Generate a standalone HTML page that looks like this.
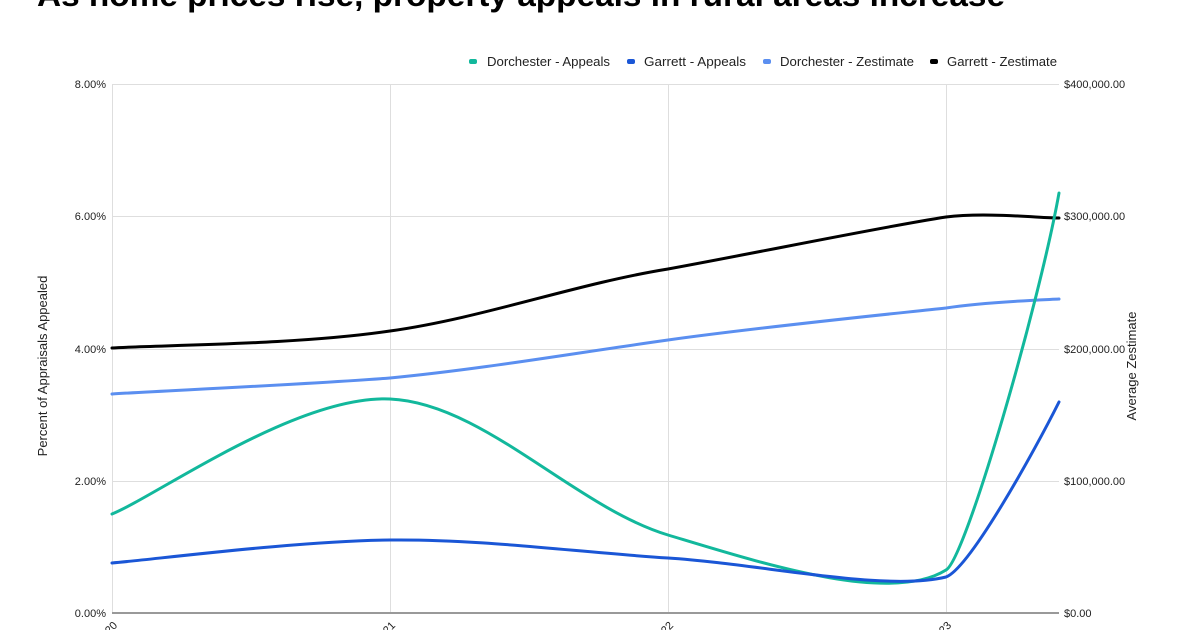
<!DOCTYPE html>
<html><head><meta charset="utf-8"><style>
html,body{margin:0;padding:0;background:#fff;}
svg{display:block;font-family:"Liberation Sans",Arial,sans-serif;}
</style></head><body>
<svg width="1200" height="630" viewBox="0 0 1200 630" xmlns="http://www.w3.org/2000/svg">
<text x="37" y="6" font-size="32" font-weight="bold" fill="#000" textLength="968" lengthAdjust="spacingAndGlyphs">As home prices rise, property appeals in rural areas increase</text>
<g font-size="12.5" fill="#222">
<rect x="469" y="59" width="8" height="5" rx="2" fill="#12b89c"/><text x="487" y="66" textLength="123" lengthAdjust="spacingAndGlyphs">Dorchester - Appeals</text>
<rect x="627" y="59" width="8" height="5" rx="2" fill="#1a56d6"/><text x="644" y="66" textLength="102" lengthAdjust="spacingAndGlyphs">Garrett - Appeals</text>
<rect x="763" y="59" width="8" height="5" rx="2" fill="#5b8ff0"/><text x="780" y="66" textLength="134" lengthAdjust="spacingAndGlyphs">Dorchester - Zestimate</text>
<rect x="930" y="59" width="8" height="5" rx="2" fill="#000"/><text x="947" y="66" textLength="110" lengthAdjust="spacingAndGlyphs">Garrett - Zestimate</text>
</g>
<g stroke="#dedede" stroke-width="1">
<line x1="112" y1="84.5" x2="1059" y2="84.5"/><line x1="112" y1="216.5" x2="1059" y2="216.5"/>
<line x1="112" y1="349.5" x2="1059" y2="349.5"/><line x1="112" y1="481.5" x2="1059" y2="481.5"/>
<line x1="112.5" y1="84" x2="112.5" y2="613"/><line x1="390.5" y1="84" x2="390.5" y2="613"/>
<line x1="668.5" y1="84" x2="668.5" y2="613"/><line x1="946.5" y1="84" x2="946.5" y2="613"/>
</g>
<line x1="112" y1="613" x2="1059" y2="613" stroke="#999" stroke-width="2"/>
<g font-size="11" fill="#222" text-anchor="end">
<text x="106" y="88">8.00%</text><text x="106" y="220">6.00%</text><text x="106" y="353">4.00%</text><text x="106" y="485">2.00%</text><text x="106" y="617">0.00%</text>
</g>
<g font-size="11" fill="#222">
<text x="1064" y="88">$400,000.00</text><text x="1064" y="220">$300,000.00</text><text x="1064" y="353">$200,000.00</text><text x="1064" y="485">$100,000.00</text><text x="1064" y="617">$0.00</text>
</g>
<g font-size="11" fill="#222" text-anchor="end">
<text transform="translate(118,626) rotate(-45)">2020</text>
<text transform="translate(396,626) rotate(-45)">2021</text>
<text transform="translate(674,626) rotate(-45)">2022</text>
<text transform="translate(952,626) rotate(-45)">2023</text>
</g>
<text transform="translate(47,366) rotate(-90)" font-size="13" fill="#222" text-anchor="middle">Percent of Appraisals Appealed</text>
<text transform="translate(1136,366) rotate(-90)" font-size="13" fill="#222" text-anchor="middle">Average Zestimate</text>
<g fill="none" stroke-width="3" stroke-linecap="round">
<path stroke="#5b8ff0" d="M112,394 C158,391 297,385 390,378 C483,369 575,353 668,340 C761,327 881,315 946,308 C984,302 1040,300 1059,299"/>
<path stroke="#000" d="M112,348 C158,345 297,345 390,331 C483,318 575,284 668,269 C761,252 881,227 946,217 C985,212 1040,218 1059,218"/>
<path stroke="#12b89c" d="M112,514 C158,495 297,395 390,399 C483,403 575,507 668,535 C761,563 890,605 946,570 C966,559 1040,300 1059,193"/>
<path stroke="#1a56d6" d="M112,563 C158,559 297,541 390,540 C483,539 575,552 668,558 C761,564 885,592 946,577 C970,568 1035,450 1059,402"/>
</g>
</svg>
</body></html>
